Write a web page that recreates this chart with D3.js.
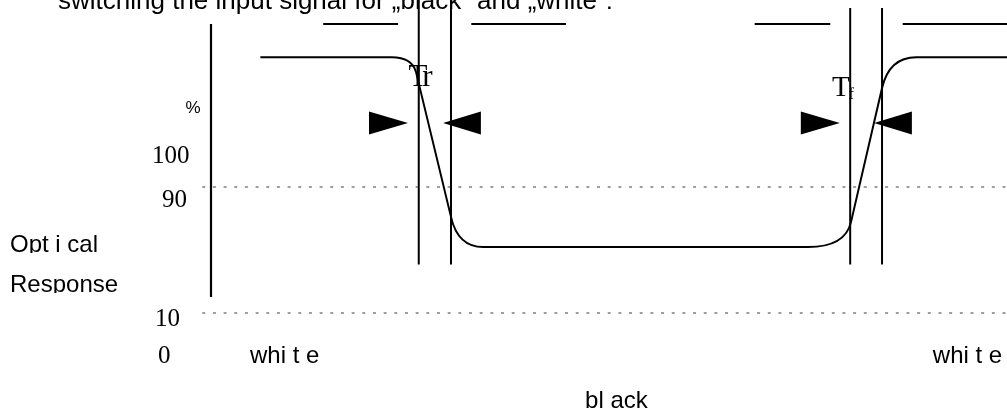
<!DOCTYPE html>
<head>
  <meta charset="utf-8">
  <title>Optical response timing</title>
  <script src="https://d3js.org/d3.v7.min.js"></script>
  <style>
    body { margin:0;position:fixed;top:0;right:0;bottom:0;left:0;background:#fff; }
    svg { width: 1007px; height: 414px; display:block; }
  </style>
</head>
<body>
  <svg></svg>
  <script>
    // diagram units: t = time (0..100 across), r = level (0..100 up)
    var titleText = 'switching the input signal for \u201Eblack\u201C and \u201Ewhite\u201C:';
    var yTickLabels = ['100', '90', '10', '0'];
    var thresholdLevels = [50.3, 11.9];          // the 90 % and 10 % dotted lines
    var edgeTimes = [26.1, 30.15, 80.3, 84.3];    // vertical markers
    var signalBars = [[14.1, 23.5], [32.7, 44.6], [68.3, 77.8], [86.9, 100]];
    var arrowBases = [19.85, 33.9, 74.1, 88.05];
    var arrowTips = [24.75, 29.15, 79.0, 83.3];
    var responseCurve = [
      {t: 6.2, r: 89.9},
      {t: 22.7, r: 89.9},
      {t: 25.75, r: 85.4, ct: 25.25, cr: 89.9},
      {t: 30.15, r: 41.2},
      {t: 34.2, r: 32.0, ct: 31.0, cr: 32.0},
      {t: 75.0, r: 32.0},
      {t: 80.4, r: 39.6, ct: 79.65, cr: 32.0},
      {t: 84.3, r: 80.5},
      {t: 88.6, r: 89.9, ct: 85.2, cr: 89.9},
      {t: 100, r: 89.9}
    ];

    var width = 1007, height = 414;
    var x = d3.scaleLinear().domain([0, 100]).range([211, 1007]);
    var y = d3.scaleLinear().domain([0, 100]).range([352, 24]);
    var svg = d3.select('svg').attr('viewBox', [0, 0, width, height]);

    var serif = '"Liberation Serif", "Times New Roman", serif';
    var sans = '"Liberation Sans", Arial, sans-serif';

    // title, cut off by the top edge
    svg.append('text')
      .attr('x', 58).attr('y', 9)
      .attr('font-family', sans).attr('font-size', 26)
      .text(titleText);

    // dotted threshold lines
    svg.selectAll('.thr').data(thresholdLevels).enter().append('line')
      .attr('x1', x(-1.1)).attr('x2', x(100))
      .attr('y1', d => y(d)).attr('y2', d => y(d))
      .attr('stroke', '#7f7f7f').attr('stroke-width', 1.4)
      .attr('stroke-dasharray', '3,7.67');

    // vertical axis
    svg.append('line')
      .attr('x1', x(0)).attr('x2', x(0))
      .attr('y1', y(100)).attr('y2', y(16.8))
      .attr('stroke', '#000').attr('stroke-width', 2.2);

    // input signal bars
    svg.selectAll('.bar').data(signalBars).enter().append('line')
      .attr('x1', d => x(d[0])).attr('x2', d => x(d[1]))
      .attr('y1', y(100)).attr('y2', y(100))
      .attr('stroke', '#000').attr('stroke-width', 2);

    // edge markers
    svg.selectAll('.edge').data(edgeTimes).enter().append('line')
      .attr('x1', d => x(d)).attr('x2', d => x(d))
      .attr('y1', (d, i) => i < 2 ? y(108) : y(104.9))
      .attr('y2', y(26.7))
      .attr('stroke', '#000').attr('stroke-width', 2);

    // response curve
    var p = d3.path();
    responseCurve.forEach((d, i) => {
      if (i === 0) p.moveTo(x(d.t), y(d.r));
      else if (d.ct !== undefined) p.quadraticCurveTo(x(d.ct), y(d.cr), x(d.t), y(d.r));
      else p.lineTo(x(d.t), y(d.r));
    });
    svg.append('path')
      .attr('d', p.toString())
      .attr('fill', 'none').attr('stroke', '#000').attr('stroke-width', 2);

    // arrow heads
    var arrowLevel = 69.8, arrowHalf = 3.5;
    svg.selectAll('.arrow').data(arrowBases).enter().append('path')
      .attr('d', (d, i) => {
        var a = d3.path();
        a.moveTo(x(d), y(arrowLevel + arrowHalf));
        a.lineTo(x(arrowTips[i]), y(arrowLevel));
        a.lineTo(x(d), y(arrowLevel - arrowHalf));
        a.closePath();
        return a.toString();
      })
      .attr('fill', '#000');

    // Tr / Tf labels
    svg.append('text')
      .attr('x', x(24.8)).attr('y', y(81.0))
      .attr('font-family', serif).attr('font-size', 31)
      .attr('letter-spacing', -4)
      .text('Tr');
    var tf = svg.append('text')
      .attr('x', x(78.0)).attr('y', y(78.2))
      .attr('font-family', serif).attr('font-size', 29);
    tf.append('tspan').text('T');
    tf.append('tspan').attr('font-size', 16).attr('dx', -1).attr('dy', 3).text('f');

    // y labels
    svg.append('text')
      .attr('x', x(-3.2)).attr('y', y(72.8))
      .attr('font-family', sans).attr('font-size', 17)
      .text('%');
    var tickX = [-7.4, -6.15, -7.05, -6.65];
    var tickY = [57.6, 44.2, 7.9, -3.35];
    svg.selectAll('.tick').data(yTickLabels).enter().append('text')
      .attr('x', (d, i) => x(tickX[i])).attr('y', (d, i) => y(tickY[i]))
      .attr('font-family', serif).attr('font-size', 25)
      .text(d => d);

    // axis title, cut at the baseline
    var defs = svg.append('defs');
    [['clipOpt', 253], ['clipResp', 293]].forEach(c => {
      defs.append('clipPath').attr('id', c[0])
        .append('rect').attr('x', 0).attr('y', c[1] - 40)
        .attr('width', 200).attr('height', 40);
    });
    svg.append('text')
      .attr('x', x(-25.25)).attr('y', 252)
      .attr('clip-path', 'url(#clipOpt)')
      .attr('font-family', sans).attr('font-size', 24)
      .text('Opt i cal');
    svg.append('text')
      .attr('x', x(-25.25)).attr('y', 292)
      .attr('clip-path', 'url(#clipResp)')
      .attr('font-family', sans).attr('font-size', 24)
      .text('Response');

    // state labels
    svg.append('text')
      .attr('x', x(4.9)).attr('y', y(-3.35))
      .attr('font-family', sans).attr('font-size', 24)
      .text('whi t e');
    svg.append('text')
      .attr('x', x(99.4)).attr('y', y(-3.35))
      .attr('text-anchor', 'end')
      .attr('font-family', sans).attr('font-size', 24)
      .text('whi t e');
    svg.append('text')
      .attr('x', x(47.0)).attr('y', y(-17.1))
      .attr('font-family', sans).attr('font-size', 24)
      .text('bl ack');
  </script>
</body>
